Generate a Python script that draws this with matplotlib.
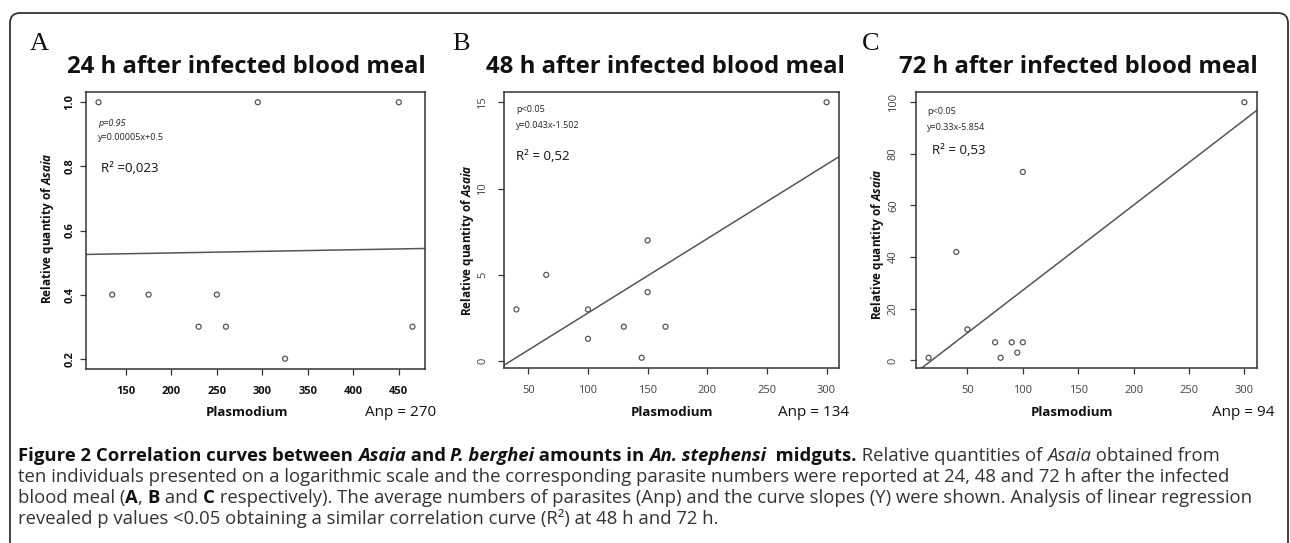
import numpy as np
import matplotlib
matplotlib.use('Agg')
import matplotlib.pyplot as plt
from matplotlib.patches import FancyBboxPatch
from matplotlib.transforms import IdentityTransform

# Datos

hours = ['24', '48', '72']
panel_letters = ['A', 'B', 'C']

a_x = [120, 295, 450, 135, 175, 250, 230, 260, 325, 465]
a_y = [1.0, 1.0, 1.0, 0.4, 0.4, 0.4, 0.3, 0.3, 0.2, 0.3]
b_x = [300, 150, 65, 150, 40, 100, 130, 165, 100, 145]
b_y = [15, 7, 5, 4, 3, 3, 2, 2, 1.3, 0.2]
c_x = [300, 100, 40, 50, 15, 75, 90, 100, 80, 95]
c_y = [100, 73, 42, 12, 1, 7, 7, 7, 1, 3]

slopes = [0.00005, 0.043, 0.33]
intercepts = [0.52, -1.502, -5.854]
anp = [270, 134, 94]
p_text = ['p=0.95', 'p<0.05', 'p<0.05']
eq_text = ['y=0.00005x+0.5', 'y=0.043x-1.502', 'y=0.33x-5.854']
r2_text = ['R\u00b2 =0,023', 'R\u00b2 = 0,52', 'R\u00b2 = 0,53']

a_xticks = [150, 200, 250, 300, 350, 400, 450]
bc_xticks = [50, 100, 150, 200, 250, 300]
a_yticks = [0.2, 0.4, 0.6, 0.8, 1.0]
b_yticks = [0, 5, 10, 15]
c_yticks = [0, 20, 40, 60, 80, 100]

# Fuentes
plt.rcParams['font.family'] = ['Open Sans', 'DejaVu Sans']
plt.rcParams['mathtext.fontset'] = 'custom'
plt.rcParams['mathtext.it'] = 'Open Sans:italic:bold'

W, H = 1290, 543
fig = plt.figure(figsize=(W / 100, H / 100), dpi=100)

# Marco redondeado
frame = FancyBboxPatch((10, -30), 1278, H - 13 + 30, boxstyle='round,pad=0,rounding_size=10',
                       transform=IdentityTransform(), fill=False, edgecolor='#333333', linewidth=1.3)
fig.patches.append(frame)

boxes = [(86, 92, 425, 369), (504, 92, 839, 368), (916, 92, 1257, 368)]
xs = [a_x, b_x, c_x]
ys = [a_y, b_y, c_y]
xticks = [a_xticks, bc_xticks, bc_xticks]
yticks = [a_yticks, b_yticks, c_yticks]
ylab_fmt = ['{:.1f}', '{:d}', '{:d}']
ylab_pad = [3.5, 7, 8]
tick_weight = ['bold', 'normal', 'normal']
tick_color = ['#111111', '#444444', '#444444']
letter_x = [30, 452, 862]
title_cx = [246, 665, 1078]
ylabel_pos = [(48, 228), (468, 240), (878, 244)]
plasmo_cx = [247, 672, 1072]
anp_x = [365, 778, 1212]
ann_pos = [((98, 123), (98, 138), (101, 168)),
           ((516, 110), (516, 125), (516, 157)),
           ((927, 112), (927, 127), (932, 150))]


def to_ax(box, px, py):
    l, t, r, b = box
    return (px - l) / (r - l), (b - py) / (b - t)


for i in range(3):
    l, t, r, b = boxes[i]
    ax = fig.add_axes([l / W, 1 - b / H, (r - l) / W, (b - t) / H])
    x = np.array(xs[i], dtype=float)
    y = np.array(ys[i], dtype=float)
    # margenes tipo R (4%)
    xpad = 0.04 * (x.max() - x.min())
    ypad = 0.04 * (y.max() - y.min())
    xlim = (x.min() - xpad, x.max() + xpad)
    ylim = (y.min() - ypad, y.max() + ypad)

    ax.scatter(x, y, s=13, facecolors='none', edgecolors='#555555', linewidths=0.9, zorder=3)
    xl = np.array(xlim)
    ax.plot(xl, slopes[i] * xl + intercepts[i], color='#555555', linewidth=1.1)
    ax.set_xlim(xlim)
    ax.set_ylim(ylim)

    for sp in ax.spines.values():
        sp.set_color('#333333')
        sp.set_linewidth(1.1)
    ax.set_xticks(xticks[i])
    ax.set_xticklabels([str(v) for v in xticks[i]], fontsize=8, fontweight=tick_weight[i],
                       color=tick_color[i])
    ax.set_yticks(yticks[i])
    ax.set_yticklabels([ylab_fmt[i].format(v) for v in yticks[i]], fontsize=8,
                       fontweight=tick_weight[i], color=tick_color[i], rotation=90, va='center')
    ax.tick_params(axis='x', length=4.3, width=0.9, pad=8, color='#333333')
    ax.tick_params(axis='y', length=4.3, width=0.9, pad=ylab_pad[i], color='#333333')

    # Titulo y letra
    tx, ty = to_ax(boxes[i], title_cx[i], 73)
    ax.text(tx, ty, f'{hours[i]} h after infected blood meal', transform=ax.transAxes,
            ha='center', va='baseline', fontsize=17.2, fontweight='bold', color='#111111')
    fig.text(letter_x[i] / W, 1 - 50 / H, panel_letters[i], family='Liberation Serif',
             fontsize=19, color='#111111', va='baseline', ha='left')

    # Etiquetas de ejes
    yx, yy = to_ax(boxes[i], *ylabel_pos[i])
    ax.text(yx, yy, r'Relative quantity of $\mathit{Asaia}$', transform=ax.transAxes,
            rotation=90, ha='center', va='center', fontsize=8.5, fontweight='bold', color='#111111')
    px_, py_ = to_ax(boxes[i], plasmo_cx[i], 413)
    ax.text(px_, py_, 'Plasmodium', transform=ax.transAxes, ha='center', va='center',
            fontsize=9.5, fontweight='bold', color='#111111')
    ax_, ay_ = to_ax(boxes[i], anp_x[i], 413)
    ax.text(ax_, ay_, f'Anp = {anp[i]}', transform=ax.transAxes, ha='left', va='center',
            fontsize=11, color='#111111', clip_on=False)

    # Anotaciones
    (p1, p2, p3) = ann_pos[i]
    u, v = to_ax(boxes[i], *p1)
    ax.text(u, v, p_text[i], transform=ax.transAxes, fontsize=6.5, va='center', color='#222222',
            fontstyle='italic' if i == 0 else 'normal')
    u, v = to_ax(boxes[i], *p2)
    ax.text(u, v, eq_text[i], transform=ax.transAxes, fontsize=6.5, va='center', color='#222222')
    u, v = to_ax(boxes[i], *p3)
    ax.text(u, v, r2_text[i], transform=ax.transAxes, fontsize=9.5, va='center', color='#111111')

# Pie de figura

BLACK = '#111111'
GREY = '#333333'
caption = [
    [('Figure 2 Correlation curves between ', 'bold', 'normal', BLACK),
     ('Asaia', 'bold', 'italic', BLACK),
     (' and ', 'bold', 'normal', BLACK),
     ('P. berghei', 'bold', 'italic', BLACK),
     (' amounts in ', 'bold', 'normal', BLACK),
     ('An. stephensi', 'bold', 'italic', BLACK),
     ('  midguts.', 'bold', 'normal', BLACK),
     (' Relative quantities of ', 'normal', 'normal', GREY),
     ('Asaia', 'normal', 'italic', GREY),
     (' obtained from', 'normal', 'normal', GREY)],
    [('ten individuals presented on a logarithmic scale and the corresponding parasite numbers '
      'were reported at 24, 48 and 72 h after the infected', 'normal', 'normal', GREY)],
    [('blood meal (', 'normal', 'normal', GREY),
     ('A', 'bold', 'normal', BLACK), (', ', 'normal', 'normal', GREY),
     ('B', 'bold', 'normal', BLACK), (' and ', 'normal', 'normal', GREY),
     ('C', 'bold', 'normal', BLACK),
     (' respectively). The average numbers of parasites (Anp) and the curve slopes (Y) were shown. '
      'Analysis of linear regression', 'normal', 'normal', GREY)],
    [('revealed p values <0.05 obtaining a similar correlation curve (R\u00b2) at 48 h and 72 h.',
      'normal', 'normal', GREY)],
]
caption_y = [461, 482, 503, 524]
CAP_LEFT, CAP_RIGHT = 18, 1240

renderer = fig.canvas.get_renderer()


def draw_line(parts, yb, size):
    xcur = CAP_LEFT
    texts = []
    for text, weight, style, color in parts:
        t = fig.text(xcur / W, 1 - yb / H, text, fontsize=size, fontweight=weight,
                     fontstyle=style, color=color, va='baseline')
        xcur += t.get_window_extent(renderer).width
        texts.append(t)
    return xcur, texts


# ajustar el tamano para que la tercera linea llegue al borde derecho
end, tmp = draw_line(caption[2], caption_y[2], 12)
for t in tmp:
    t.remove()
cap_size = 12 * (CAP_RIGHT - CAP_LEFT) / (end - CAP_LEFT)

for parts, yb in zip(caption, caption_y):
    draw_line(parts, yb, cap_size)

fig.savefig('out.png', dpi=100)
